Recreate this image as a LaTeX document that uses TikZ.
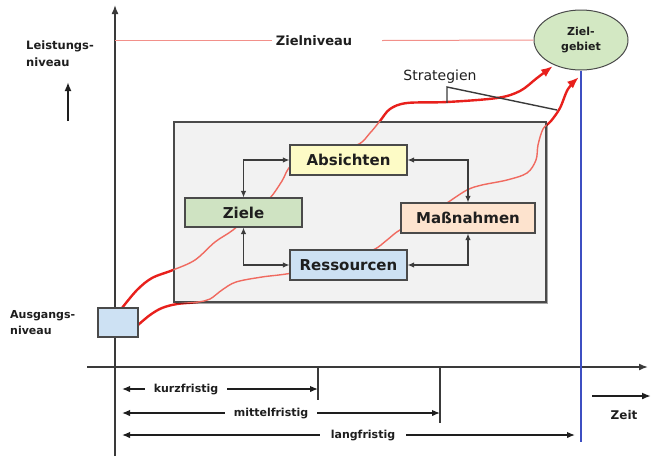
\documentclass[tikz,border=0pt]{standalone}
\usepackage{fontspec}
\setmainfont{DejaVu Sans}
\usetikzlibrary{arrows.meta,shapes.geometric,calc,shadows}
\definecolor{axisgray}{HTML}{3A3A3A}
\definecolor{boxline}{HTML}{4A4A4A}
\definecolor{linkgray}{HTML}{3C3C3C}
\definecolor{framefill}{HTML}{F2F2F2}
\definecolor{curvered}{HTML}{E8201C}
\definecolor{curvelight}{HTML}{F06A60}
\definecolor{zielred}{HTML}{F2908A}
\definecolor{yelfill}{HTML}{FDFBC6}
\definecolor{grnfill}{HTML}{CFE3C2}
\definecolor{orgfill}{HTML}{FDE3CE}
\definecolor{blufill}{HTML}{CDE1F3}
\definecolor{elfill}{HTML}{D3E8C3}
\definecolor{blueline}{HTML}{3D4FC2}
\definecolor{txt}{HTML}{1E1E1E}
\begin{document}
\begin{tikzpicture}[x=1pt,y=-1pt,
  lbl/.style={font=\fontsize{11}{16}\selectfont\bfseries, text=txt, inner sep=0pt, align=left},
  box/.style={draw=boxline, line width=1.2pt, font=\fontsize{15}{18}\selectfont\bfseries, text=txt, inner sep=0pt, minimum height=30pt, drop shadow={shadow xshift=1.2pt, shadow yshift=-1.2pt, opacity=0.45, fill=black}},
  link/.style={draw=linkgray, line width=1.1pt, {Latex[length=6.5pt,width=5.5pt]}-{Latex[length=6.5pt,width=5.5pt]}},
  axisline/.style={line width=1.6pt, draw=axisgray, -{Latex[length=9pt,width=7pt]}},
  dimline/.style={line width=1.4pt, draw=txt, -{Latex[length=8pt,width=6.5pt]}},
  tickline/.style={line width=1.5pt, draw=axisgray},
  redcurve/.style={line width=2.4pt, draw=curvered, line cap=round, -{Latex[length=12pt,width=9pt]}},
  zline/.style={line width=1pt, draw=zielred},
  stratline/.style={line width=1.4pt, draw=axisgray}
]
\useasboundingbox (0,0) rectangle (655,456);

% named coordinates
\coordinate (s1) at (122,308);
\coordinate (e1) at (553,66);
\coordinate (s2) at (138,325);
\coordinate (e2) at (579,77);

% red curves (background)
\draw[redcurve] plot[smooth, tension=0.55] coordinates {(s1) (137,290) (152,278) (173,270) (195,260) (215,242) (233,230) (252,213) (270,198) (282,181) (292,165) (320,155) (357,145) (370,133) (380,121) (390,109) (407,103) (447,102) (497,98) (520,91) (537,78) (e1)};
\draw[redcurve] plot[smooth, tension=0.55] coordinates {(s2) (150,315) (162,308) (177,304) (198,302) (210,299) (222,290) (236,282) (262,277) (292,273) (340,262) (373,250) (387,240) (400,230) (430,215) (447,203) (467,190) (482,185) (507,180) (527,173) (536,160) (538,145) (543,129) (551,121) (560,108) (568,89) (e2)};

% frame
\node[draw=boxline, line width=1.3pt, fill=framefill, minimum width=372pt, minimum height=180pt, inner sep=0pt, drop shadow={shadow xshift=1.5pt, shadow yshift=-1.5pt, opacity=0.35, fill=black}] (frame) at (360,212) {};
\begin{scope}
\clip (frame.north west) rectangle (frame.south east);
\draw[line width=1.4pt, draw=curvelight] plot[smooth, tension=0.55] coordinates {(s1) (137,290) (152,278) (173,270) (195,260) (215,242) (233,230) (252,213) (270,198) (282,181) (292,165) (320,155) (357,145) (370,133) (380,121) (390,109) (407,103) (447,102)};
\draw[line width=1.4pt, draw=curvelight] plot[smooth, tension=0.55] coordinates {(s2) (150,315) (162,308) (177,304) (198,302) (210,299) (222,290) (236,282) (262,277) (292,273) (340,262) (373,250) (387,240) (400,230) (430,215) (447,203) (467,190) (482,185) (507,180) (527,173) (536,160) (538,145) (543,129) (551,121) (560,108)};
\end{scope}

% boxes
\node[box, fill=yelfill, minimum width=117pt] (abs) at (348.5,160) {Absichten};
\node[box, fill=grnfill, minimum width=117pt, minimum height=29pt] (ziele) at (243.5,212.5) {Ziele};
\node[box, fill=orgfill, minimum width=134pt] (mass) at (468,218) {Maßnahmen};
\node[box, fill=blufill, minimum width=117pt] (res) at (348.5,265) {Ressourcen};

% links
\draw[link] (ziele.north) |- (abs.west);
\draw[link] (abs.east) -| (mass.north);
\draw[link] (mass.south) |- (res.east);
\draw[link] (ziele.south) |- (res.west);

% axes
\coordinate (ybot) at (115,456);
\coordinate (ytop) at (115,5);
\coordinate (xl) at (87,367);
\coordinate (xr) at (648,367);
\draw[axisline] (ybot) -- (ytop);
\draw[axisline] (xl) -- (xr);

% start box
\node[draw=boxline, line width=1.2pt, fill=blufill, minimum width=40pt, minimum height=29pt, inner sep=0pt] (aus) at (118,322.5) {};
\node[lbl, anchor=west] (auslbl) at (10,323) {Ausgangs-\\niveau};

% Leistungsniveau
\node[lbl, anchor=west, font=\fontsize{11.5}{17}\selectfont\bfseries] (lei) at (26,54) {Leistungs-\\niveau};
\coordinate (ua0) at (68,121);
\coordinate (ua1) at (68,82);
\draw[line width=2pt, draw=txt, -{Latex[length=9pt,width=7pt]}] (ua0) -- (ua1);

% Zielgebiet
\node[ellipse, draw=boxline, line width=1pt, fill=elfill, minimum width=94pt, minimum height=60pt, inner sep=0pt, font=\fontsize{11}{15}\selectfont\bfseries, text=txt, align=center] (zg) at (581,40) {Ziel-\\gebiet};
\coordinate (blueend) at (581,442);
\draw[line width=1.5pt, draw=blueline] (zg.south) -- (blueend);

% Zielniveau
\node[lbl, font=\fontsize{13}{16}\selectfont\bfseries] (zn) at (314,41) {Zielniveau};
\coordinate (zl0) at (115,40.5);
\coordinate (zl1) at (272,40.5);
\coordinate (zl2) at (382,40.5);
\draw[zline] (zl0) -- (zl1);
\draw[zline] (zl2) -- (zg.west);

% Strategien
\node[font=\fontsize{14}{16}\selectfont, text=txt, inner sep=0pt] (strat) at (440,77) {Strategien};
\coordinate (st0) at (447,87);
\coordinate (st1) at (447,103);
\coordinate (st2) at (557,110);
\draw[stratline] (st1) -- (st0) -- (st2);

% ticks
\coordinate (t1a) at (318,367);
\coordinate (t1b) at (318,400);
\coordinate (t2a) at (440,367);
\coordinate (t2b) at (440,423);
\draw[tickline] (t1a) -- (t1b);
\draw[tickline] (t2a) -- (t2b);

% time spans
\node[lbl, inner xsep=9pt] (kurz) at (186,389) {kurzfristig};
\coordinate (k0) at (122,389);
\draw[dimline] (kurz.west) -- (k0);
\draw[dimline] (kurz.east) -- (kurz.east -| t1a);

\node[lbl, inner xsep=9pt] (mittel) at (271,413) {mittelfristig};
\coordinate (m0) at (122,413);
\draw[dimline] (mittel.west) -- (m0);
\draw[dimline] (mittel.east) -- (mittel.east -| t2a);

\node[lbl, inner xsep=11pt] (lang) at (363,435) {langfristig};
\coordinate (l0) at (122,435);
\coordinate (l1) at (575,435);
\draw[dimline] (lang.west) -- (l0);
\draw[dimline] (lang.east) -- (l1);

% Zeit
\coordinate (z0) at (592,396);
\coordinate (z1) at (651,396);
\draw[line width=1.8pt, draw=txt, -{Latex[length=9pt,width=7pt]}] (z0) -- (z1);
\node[lbl, font=\fontsize{12}{14}\selectfont\bfseries] (zeit) at (624,415) {Zeit};
\end{tikzpicture}
\end{document}
